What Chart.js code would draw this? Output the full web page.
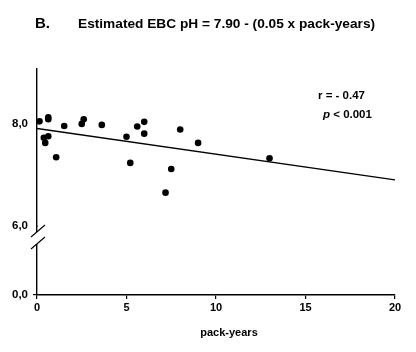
<!DOCTYPE html>
<html>
<head>
<meta charset="utf-8">
<script src="https://cdn.jsdelivr.net/npm/chart.js@4/dist/chart.umd.min.js"></script>
<style>
  html, body { margin: 0; padding: 0; background: #fff; }
  #wrap { width: 416px; height: 352px; }
</style>
</head>
<body>
<div id="wrap"><canvas id="chart" width="416" height="352"></canvas></div>
<script>
// pack-years vs EBC pH
const packYears = [0.14, 0.63, 0.63, 0.38, 0.63, 0.46, 1.07, 1.52, 2.50, 2.61, 3.62,
                   5.00, 5.21, 5.60, 5.99, 5.99, 7.18, 7.50, 8.00, 9.00, 12.99];
const ebcPh = [8.04, 8.12, 8.08, 7.72, 7.75, 7.62, 7.34, 7.95, 7.99, 8.08, 7.97,
               7.74, 7.23, 7.94, 8.03, 7.80, 6.65, 7.11, 7.88, 7.62, 7.32];

// regression: pH = 7.90 - 0.05 * pack-years
const fitX = [0, 20];
const fitY = [7.90, 6.90];

const xTicks = [0, 5, 10, 15, 20];
const yTopTicks = [6, 8];
const yBottomTicks = [0];

const titleText = 'Estimated EBC pH = 7.90 - (0.05 x pack-years)';
const statR = 'r = - 0.47';
const statP = '< 0.001';

const fontFam = '"Liberation Sans", Arial, sans-serif';
const fmt = v => v.toFixed(1).replace('.', ',');

// title, stats text, x label and the axis break
const decorPlugin = {
    id: 'decor',
    afterDraw(chart) {
        const ctx = chart.ctx;
        const area = chart.chartArea;
        const yTop = chart.scales.yTop;
        ctx.save();
        ctx.fillStyle = '#000';
        ctx.textBaseline = 'middle';
        ctx.textAlign = 'left';

        ctx.font = 'bold 15px ' + fontFam;
        ctx.fillText('B.', 35, 24);
        ctx.font = 'bold 13.7px ' + fontFam;
        ctx.fillText(titleText, 78, 24);

        ctx.font = 'bold 11.5px ' + fontFam;
        ctx.fillText(statR, 318, 96);
        ctx.font = 'italic bold 11.5px ' + fontFam;
        ctx.fillText('p', 323, 115);
        const pw = ctx.measureText('p ').width;
        ctx.font = 'bold 11.5px ' + fontFam;
        ctx.fillText(statP, 323 + pw, 115);

        ctx.font = 'bold 11px ' + fontFam;
        ctx.textAlign = 'center';
        ctx.fillText('pack-years', 229, 333);

        // axis break
        const s = yTop.bottom;
        const ax = area.left;
        ctx.fillStyle = '#fff';
        ctx.fillRect(ax - 3, s + 6, 6, 12);
        ctx.strokeStyle = '#000';
        ctx.lineWidth = 1.1;
        ctx.beginPath();
        ctx.moveTo(ax - 6, s + 11);
        ctx.lineTo(ax + 8, s - 1);
        ctx.moveTo(ax - 6, s + 23);
        ctx.lineTo(ax + 8, s + 11);
        ctx.stroke();
        ctx.restore();
    }
};

const ctx = document.getElementById('chart').getContext('2d');
new Chart(ctx, {
    data: {
        datasets: [
            {
                type: 'scatter',
                data: packYears.map((x, i) => ({ x: x, y: ebcPh[i] })),
                yAxisID: 'yTop',
                backgroundColor: '#000',
                borderColor: '#000',
                pointRadius: 3.3,
                borderWidth: 0
            },
            {
                type: 'line',
                data: fitX.map((x, i) => ({ x: x, y: fitY[i] })),
                yAxisID: 'yTop',
                borderColor: '#000',
                borderWidth: 1.3,
                pointRadius: 0,
                fill: false
            }
        ]
    },
    plugins: [decorPlugin],
    options: {
        responsive: false,
        animation: false,
        events: [],
        layout: { padding: { left: 7, right: 21, top: 69, bottom: 0 } },
        plugins: {
            legend: { display: false },
            tooltip: { enabled: false },
            title: { display: false }
        },
        scales: {
            x: {
                type: 'linear',
                min: 0,
                max: 20,
                afterBuildTicks: s => { s.ticks = xTicks.map(v => ({ value: v })); },
                afterFit: s => { s.height = 57; },
                grid: { display: true, drawOnChartArea: false, drawTicks: true, tickLength: 4, color: '#000', lineWidth: 1.2 },
                border: { display: true, color: '#000', width: 1.4 },
                ticks: { color: '#000', padding: 2, font: { family: fontFam, size: 11, weight: 'bold' } }
            },
            yBottom: {
                type: 'linear',
                position: 'left',
                stack: 'ph',
                stackWeight: 69,
                min: 0,
                max: 1,
                afterBuildTicks: s => { s.ticks = yBottomTicks.map(v => ({ value: v })); },
                afterFit: s => { s.width = 30; },
                grid: { display: true, drawOnChartArea: false, drawTicks: true, tickLength: 4, color: '#000', lineWidth: 1.2 },
                border: { display: true, color: '#000', width: 1.4 },
                ticks: { color: '#000', padding: 5, callback: v => fmt(v), font: { family: fontFam, size: 11.5, weight: 'bold' } }
            },
            yTop: {
                type: 'linear',
                position: 'left',
                stack: 'ph',
                stackWeight: 157,
                min: 6,
                max: 9.06,
                afterBuildTicks: s => { s.ticks = yTopTicks.map(v => ({ value: v })); },
                afterFit: s => { s.width = 30; },
                grid: { display: false, drawTicks: false },
                border: { display: true, color: '#000', width: 1.4 },
                ticks: { color: '#000', padding: 9, callback: v => fmt(v), font: { family: fontFam, size: 11.5, weight: 'bold' } }
            }
        }
    }
});
</script>
</body>
</html>
